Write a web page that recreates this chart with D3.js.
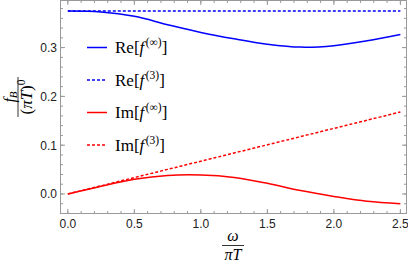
<!DOCTYPE html>
<html>
<head>
<meta charset="utf-8">
<script src="https://cdn.jsdelivr.net/npm/d3@7"></script>
<style>
  body { margin: 0; background: #fff; }
  svg { display: block; }
  .tick-label { font-family: "Liberation Sans", Arial, sans-serif; font-size: 12px; fill: #222; }
  .math { font-family: "Liberation Serif", "Times New Roman", serif; fill: #000; }
</style>
</head>
<body>
<div id="chart"></div>
<script>
// values
const omega = [0, 0.25, 0.5, 0.75, 1.0, 1.25, 1.5, 1.75, 2.0, 2.25, 2.5];
const reInf = [0.375, 0.373, 0.364, 0.347, 0.331, 0.318, 0.307, 0.301, 0.304, 0.314, 0.327];
const re3   = [0.375, 0.375, 0.375, 0.375, 0.375, 0.375, 0.375, 0.375, 0.375, 0.375, 0.375];
const imInf = [0.0, 0.016, 0.030, 0.038, 0.039, 0.034, 0.022, 0.007, -0.005, -0.015, -0.020];
const im3   = [0.0, 0.0168, 0.0336, 0.0504, 0.0672, 0.084, 0.1008, 0.1176, 0.1344, 0.1512, 0.168];

const xTicks = [0, 0.5, 1.0, 1.5, 2.0, 2.5];
const yTicks = [0, 0.1, 0.2, 0.3];

const width = 408, height = 263;
const frameL = 60.5, frameR = 406.5, frameT = 0.5, frameB = 213.5;

const svg = d3.select('#chart').append('svg')
    .attr('width', width)
    .attr('height', height);

const x = d3.scaleLinear().domain([-0.055, 2.546]).range([frameL, frameR]);
const y = d3.scaleLinear().domain([-0.040, 0.3965]).range([frameB, frameT]);

// series
const series = [
    {name: 'Re', sup: '(∞)', vals: reInf, color: '#0000ff', dash: null},
    {name: 'Re', sup: '(3)', vals: re3, color: '#0000ff', dash: '3,2'},
    {name: 'Im', sup: '(∞)', vals: imInf, color: '#ff0000', dash: null},
    {name: 'Im', sup: '(3)', vals: im3, color: '#ff0000', dash: '3,2'}
];

const line = d3.line()
    .x((d, i) => x(omega[i]))
    .y(d => y(d))
    .curve(d3.curveCatmullRom.alpha(0.5));

svg.append('g').selectAll('path')
    .data(series)
    .enter().append('path')
    .attr('d', d => line(d.vals))
    .attr('fill', 'none')
    .attr('stroke', d => d.color)
    .attr('stroke-width', 1.5)
    .attr('stroke-dasharray', d => d.dash);

// frame
const frame = svg.append('g');
frame.append('rect')
    .attr('x', frameL).attr('y', frameT)
    .attr('width', frameR - frameL).attr('height', frameB - frameT)
    .attr('fill', 'none').attr('stroke', '#999').attr('stroke-width', 1);

// ticks (inside, on all four sides)
const xMinor = d3.range(0, 2.51, 0.1);
const yMinor = d3.range(-0.02, 0.39, 0.02);

function tickMarks(vals, len, isX) {
    vals.forEach(v => {
        if (isX) {
            const px = x(v);
            frame.append('line').attr('x1', px).attr('x2', px).attr('y1', frameB).attr('y2', frameB - len);
            frame.append('line').attr('x1', px).attr('x2', px).attr('y1', frameT).attr('y2', frameT + len);
        } else {
            const py = y(v);
            frame.append('line').attr('y1', py).attr('y2', py).attr('x1', frameL).attr('x2', frameL + len);
            frame.append('line').attr('y1', py).attr('y2', py).attr('x1', frameR).attr('x2', frameR - len);
        }
    });
}
tickMarks(xMinor, 2.5, true);
tickMarks(xTicks, 4.5, true);
tickMarks(yMinor, 2.5, false);
tickMarks(yTicks, 4.5, false);
frame.selectAll('line').attr('stroke', '#999').attr('stroke-width', 1);

// tick labels
svg.append('g').selectAll('text')
    .data(xTicks)
    .enter().append('text')
    .attr('class', 'tick-label')
    .attr('x', d => x(d))
    .attr('y', 228)
    .attr('text-anchor', 'middle')
    .text(d => d.toFixed(1));

svg.append('g').selectAll('text')
    .data(yTicks)
    .enter().append('text')
    .attr('class', 'tick-label')
    .attr('x', 57)
    .attr('y', d => y(d) + 4.5)
    .attr('text-anchor', 'end')
    .text(d => d.toFixed(1));

// legend
const legend = svg.append('g').selectAll('g')
    .data(series)
    .enter().append('g')
    .attr('transform', (d, i) => 'translate(87,' + (47.5 + i * 32.5) + ')');

legend.append('line')
    .attr('x1', 0).attr('x2', 20)
    .attr('stroke', d => d.color)
    .attr('stroke-width', 1.5)
    .attr('stroke-dasharray', d => d.dash);

const lt = legend.append('text')
    .attr('class', 'math')
    .attr('x', 28)
    .attr('y', 5.5)
    .attr('font-size', 17);
lt.append('tspan').text(d => d.name + '[');
lt.append('tspan').attr('font-style', 'italic').text('f');
lt.append('tspan').attr('font-size', 11.5).attr('dy', -7).attr('dx', 1.5).text(d => d.sup);
lt.append('tspan').attr('dy', 7).text(']');

// x axis label: omega / (pi T)
const xl = svg.append('g').attr('transform', 'translate(233,0)');
xl.append('text').attr('class', 'math').attr('font-size', 16).attr('font-style', 'italic')
    .attr('text-anchor', 'middle').attr('y', 241).text('ω');
xl.append('line').attr('x1', -11).attr('x2', 11).attr('y1', 245.5).attr('y2', 245.5)
    .attr('stroke', '#000').attr('stroke-width', 0.8);
xl.append('text').attr('class', 'math').attr('font-size', 16).attr('font-style', 'italic')
    .attr('text-anchor', 'middle').attr('y', 260).text('πT');

// y axis label: f_B / (pi T)^0
const yl = svg.append('g').attr('transform', 'translate(18,97) rotate(-90)');
const num = yl.append('text').attr('class', 'math').attr('font-size', 16)
    .attr('text-anchor', 'middle').attr('y', -3);
num.append('tspan').attr('font-style', 'italic').text('f');
num.append('tspan').attr('font-style', 'italic').attr('font-size', 11).attr('dy', 2).text('B');
yl.append('line').attr('x1', -20).attr('x2', 20).attr('y1', 0).attr('y2', 0)
    .attr('stroke', '#000').attr('stroke-width', 0.8);
const den = yl.append('text').attr('class', 'math').attr('font-size', 17)
    .attr('text-anchor', 'middle').attr('y', 14);
den.append('tspan').text('(');
den.append('tspan').attr('font-style', 'italic').text('πT');
den.append('tspan').text(')');
den.append('tspan').attr('font-size', 11.5).attr('dy', -7).text('0');
</script>
</body>
</html>
